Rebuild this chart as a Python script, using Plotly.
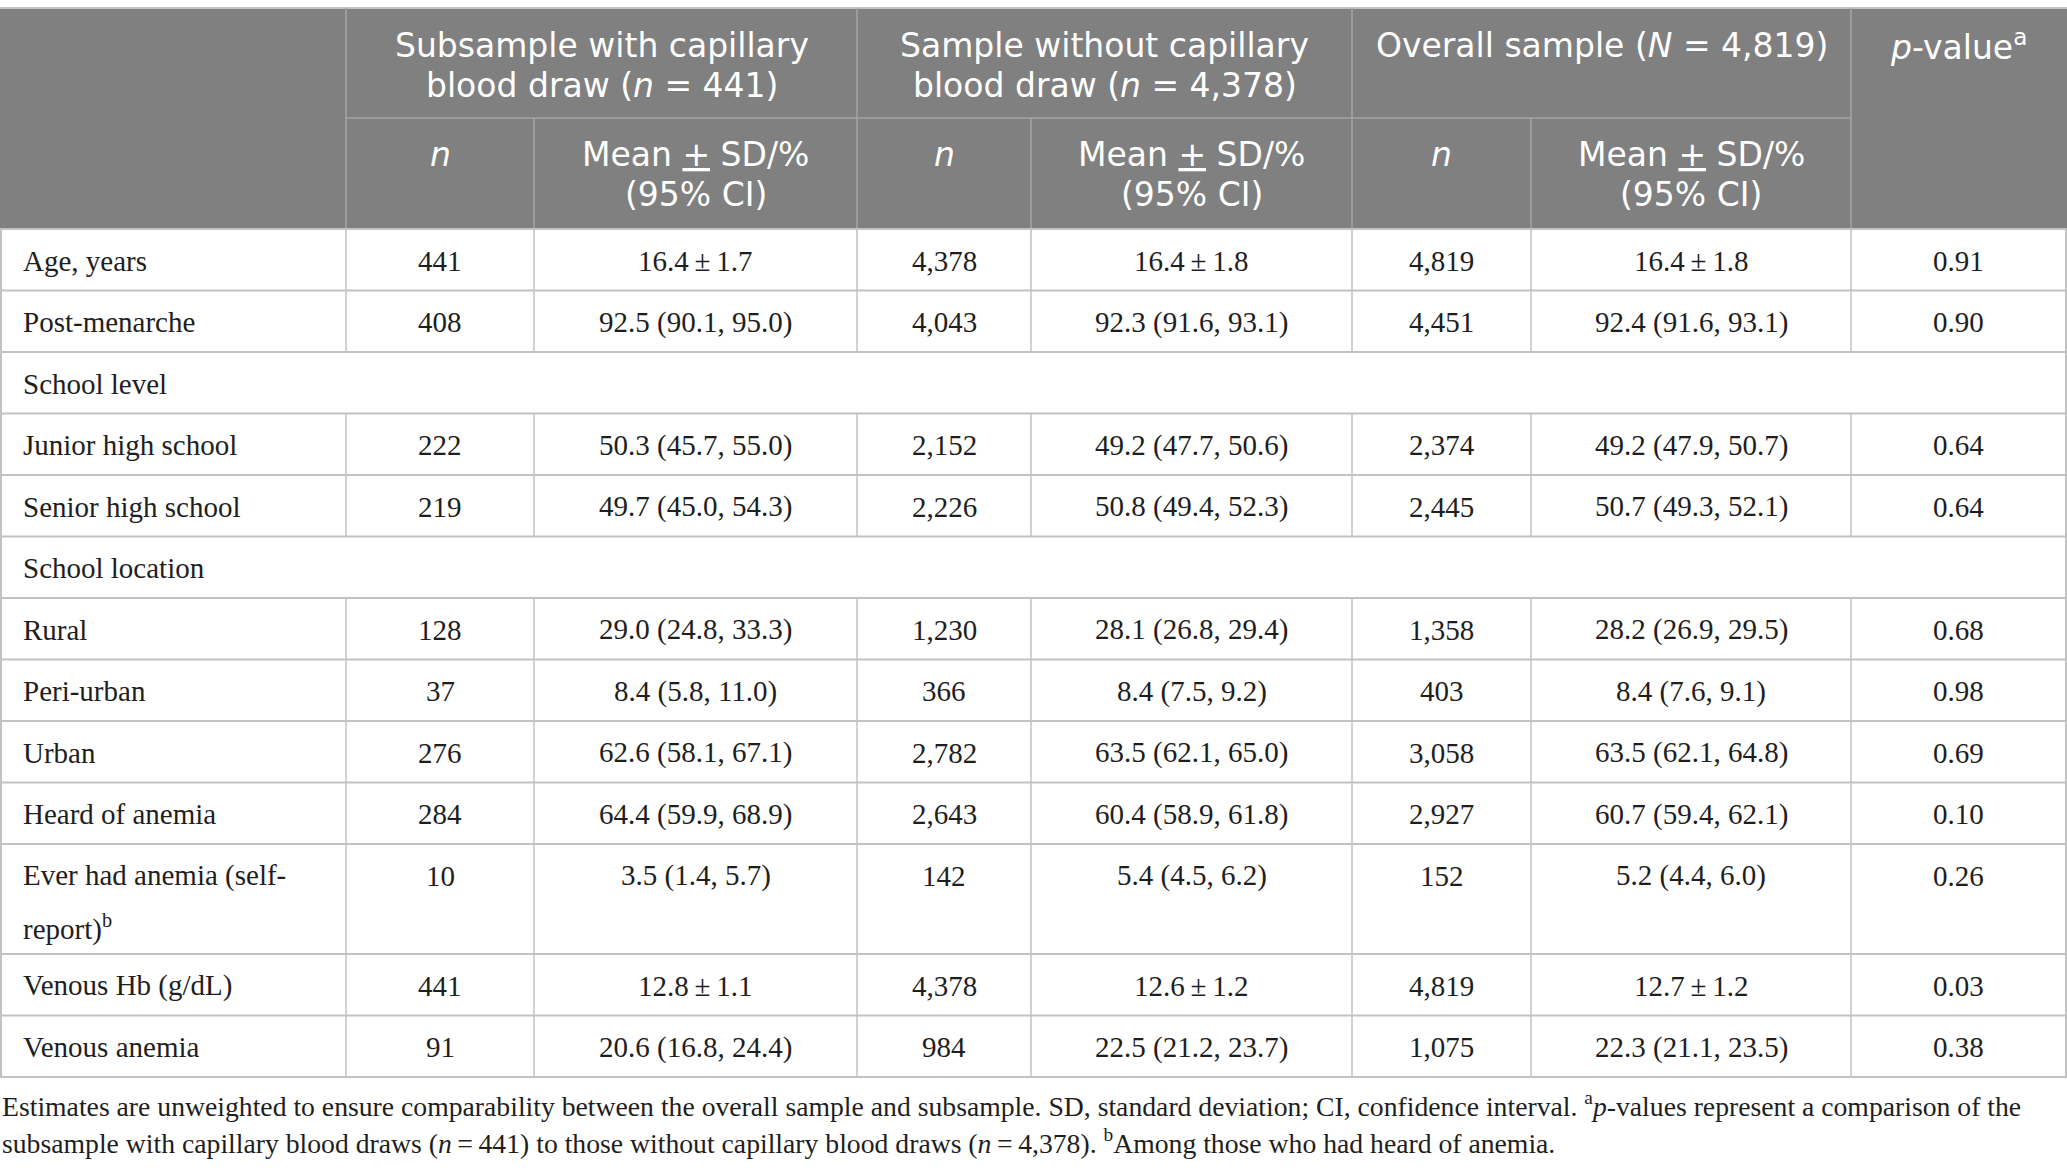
import plotly.graph_objects as go

# ---------------- data ----------------
row_labels = ["Age, years", "Post-menarche", "School level", "Junior high school",
              "Senior high school", "School location", "Rural", "Peri-urban", "Urban",
              "Heard of anemia", "Ever had anemia (self-<br>report)<sup>b</sup>",
              "Venous Hb (g/dL)", "Venous anemia"]
sub_n = ["441", "408", "", "222", "219", "", "128", "37", "276", "284", "10", "441", "91"]
sub_est = ["16.4\u2009±\u20091.7", "92.5 (90.1, 95.0)", "", "50.3 (45.7, 55.0)", "49.7 (45.0, 54.3)", "",
           "29.0 (24.8, 33.3)", "8.4 (5.8, 11.0)", "62.6 (58.1, 67.1)", "64.4 (59.9, 68.9)",
           "3.5 (1.4, 5.7)", "12.8\u2009±\u20091.1", "20.6 (16.8, 24.4)"]
without_n = ["4,378", "4,043", "", "2,152", "2,226", "", "1,230", "366", "2,782", "2,643",
             "142", "4,378", "984"]
without_est = ["16.4\u2009±\u20091.8", "92.3 (91.6, 93.1)", "", "49.2 (47.7, 50.6)", "50.8 (49.4, 52.3)", "",
               "28.1 (26.8, 29.4)", "8.4 (7.5, 9.2)", "63.5 (62.1, 65.0)", "60.4 (58.9, 61.8)",
               "5.4 (4.5, 6.2)", "12.6\u2009±\u20091.2", "22.5 (21.2, 23.7)"]
overall_n = ["4,819", "4,451", "", "2,374", "2,445", "", "1,358", "403", "3,058", "2,927",
             "152", "4,819", "1,075"]
overall_est = ["16.4\u2009±\u20091.8", "92.4 (91.6, 93.1)", "", "49.2 (47.9, 50.7)", "50.7 (49.3, 52.1)", "",
               "28.2 (26.9, 29.5)", "8.4 (7.6, 9.1)", "63.5 (62.1, 64.8)", "60.7 (59.4, 62.1)",
               "5.2 (4.4, 6.0)", "12.7\u2009±\u20091.2", "22.3 (21.1, 23.5)"]
p_values = ["0.91", "0.90", "", "0.64", "0.64", "", "0.68", "0.98", "0.69", "0.10", "0.26",
            "0.03", "0.38"]

group_headers = ["Subsample with capillary<br>blood draw (<i>n</i> = 441)",
                 "Sample without capillary<br>blood draw (<i>n</i> = 4,378)",
                 "Overall sample (<i>N</i> = 4,819)"]
sub_headers = ["<i>n</i>", "Mean <u>+</u> SD/%<br>(95% CI)"]
p_header = "<i>p</i>-value<sup>a</sup>"

footnote_lines = [
    "Estimates are unweighted to ensure comparability between the overall sample and subsample. "
    "SD, standard deviation; CI, confidence interval. <sup>a</sup><i>p</i>-values represent a comparison of the",
    "subsample with capillary blood draws (<i>n</i>\u2009=\u2009441) to those without capillary blood draws "
    "(<i>n</i>\u2009=\u20094,378). <sup>b</sup>Among those who had heard of anemia.",
]

# ---------------- layout constants ----------------
W, H = 2067, 1170
col_x = [1, 346, 534, 857, 1031, 1352, 1531, 1851, 2066]
hdr_top, hdr_mid, hdr_bot = 8, 118, 229
row_h = 61.5
extra_line = 48.5
line_gap = 52
HDR_BG = "#7f807f"
HDR_LINE = "#a3a4a3"
BODY_LINE = "#c2c2c2"
TXT = "#1e1e1e"
SANS = "DejaVu Sans, Open Sans, sans-serif"
SERIF = "Liberation Serif, Times New Roman, serif"
HDR_SIZE = 33
BODY_SIZE = 29
FOOT_SIZE = 27.7
hdr_line_gap = 40

shapes = []
annotations = []


def line(x0, y0, x1, y1, color, width):
    shapes.append(dict(type="line", xref="x", yref="y", x0=x0, y0=y0, x1=x1, y1=y1,
                       line=dict(color=color, width=width), layer="above"))


def text(x, y, s, size, family, color, xanchor="center"):
    annotations.append(dict(x=x, y=y, xref="x", yref="y", text=s, showarrow=False,
                            xanchor=xanchor, yanchor="middle",
                            font=dict(size=size, family=family, color=color)))


# header background
shapes.append(dict(type="rect", xref="x", yref="y", x0=0, x1=W, y0=hdr_top, y1=hdr_bot,
                   fillcolor=HDR_BG, line=dict(width=0), layer="below"))
line(0, hdr_top, W, hdr_top, BODY_LINE, 2)

# header lines
for i in (1, 3, 5, 7):
    line(col_x[i], hdr_top, col_x[i], hdr_bot, HDR_LINE, 1.5)
for i in (2, 4, 6):
    line(col_x[i], hdr_mid, col_x[i], hdr_bot, HDR_LINE, 1.5)
line(col_x[1], hdr_mid, col_x[7], hdr_mid, HDR_LINE, 1.5)

# header texts
y_first = hdr_top + 37
for g, gh in enumerate(group_headers):
    cx = (col_x[1 + 2 * g] + col_x[3 + 2 * g]) / 2
    for k, part in enumerate(gh.split("<br>")):
        text(cx, y_first + k * hdr_line_gap, part, HDR_SIZE, SANS, "white")
    for j, sh in enumerate(sub_headers):
        cx2 = (col_x[1 + 2 * g + j] + col_x[2 + 2 * g + j]) / 2
        for k, part in enumerate(sh.split("<br>")):
            text(cx2, hdr_mid + 36 + k * hdr_line_gap, part, HDR_SIZE, SANS, "white")
text((col_x[7] + col_x[8]) / 2, y_first, p_header, HDR_SIZE, SANS, "white")

# body
columns = [sub_n, sub_est, without_n, without_est, overall_n, overall_est, p_values]
y = hdr_bot
line(0, y, W, y, BODY_LINE, 2)
for r, lab in enumerate(row_labels):
    parts = lab.split("<br>")
    h = row_h + (len(parts) - 1) * extra_line
    ymid = y + row_h / 2 + 1
    for k, part in enumerate(parts):
        text(21, ymid + k * line_gap, part, BODY_SIZE, SERIF, TXT, xanchor="left")
    is_section = all(c[r] == "" for c in columns)
    for c, vals in enumerate(columns):
        if vals[r]:
            cx = (col_x[c + 1] + col_x[c + 2]) / 2
            text(cx, ymid, vals[r], BODY_SIZE, SERIF, TXT)
    # verticals
    line(col_x[0], y, col_x[0], y + h, BODY_LINE, 2)
    line(col_x[-1], y, col_x[-1], y + h, BODY_LINE, 2)
    if not is_section:
        for xv in col_x[1:-1]:
            line(xv, y, xv, y + h, BODY_LINE, 1.5)
    y += h
    line(0, y, W, y, BODY_LINE, 2)

# footnote
for k, fl in enumerate(footnote_lines):
    text(0, y + 27 + k * 37, fl, FOOT_SIZE, SERIF, TXT, xanchor="left")

fig = go.Figure()
fig.update_layout(
    width=W, height=H, margin=dict(l=0, r=0, t=0, b=0),
    paper_bgcolor="white", plot_bgcolor="white",
    xaxis=dict(range=[0, W], visible=False, fixedrange=True),
    yaxis=dict(range=[H, 0], visible=False, fixedrange=True),
    shapes=shapes, annotations=annotations, showlegend=False,
)
fig.write_html("out.html", config={"displayModeBar": False},
               post_script="document.body.style.margin='0';document.body.style.overflow='hidden';")
